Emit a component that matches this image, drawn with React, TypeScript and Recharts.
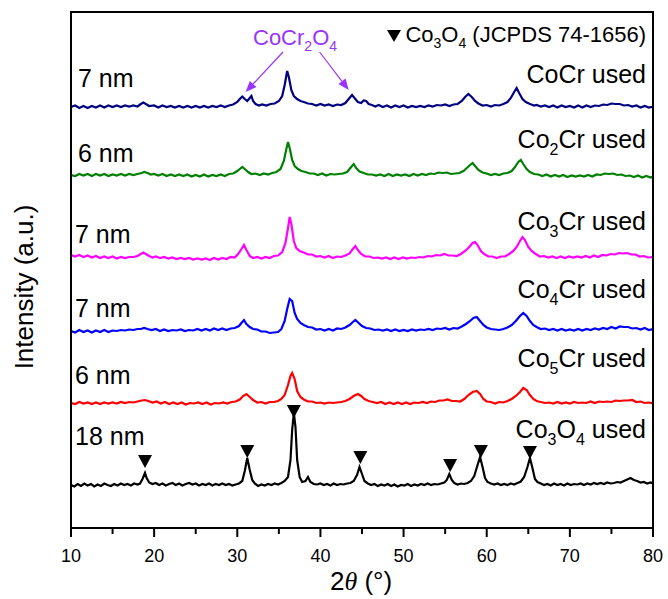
import React from 'react';
import { LineChart, Line, XAxis, YAxis, ReferenceLine, Scatter } from 'recharts';

// 2θ (deg) / intensity (a.u., above each pattern's own baseline)
const cocrUsed = [
  [10, 0], [10.5, 1.5], [11, -1], [11.5, 1], [12, -1], [12.5, 1], [13, -0.5], [13.5, 1.5], [14, -0.5], [14.5, 1.5],
  [15, 0], [15.5, 1.5], [16, 0], [16.5, 1.5], [17, 0.5], [17.5, 1.5], [18, 0.5], [18.4, 3], [18.7, 4.5], [19, 3],
  [19.4, 1], [20, 1.5], [20.5, -0.5], [21, 1.5], [21.5, 0], [22, 1], [22.5, -0.5], [23, 1], [23.5, -0.5], [24, 1],
  [24.5, -0.5], [25, 1], [25.5, -0.5], [26, 1], [26.5, -0.5], [27, 1], [27.5, 0], [28, 1.5], [28.5, 0], [29, 1.5],
  [29.5, 2.5], [30, 5], [30.3, 8], [30.6, 10.5], [30.9, 8], [31.2, 6], [31.5, 9], [31.7, 11], [31.9, 6], [32.2, 3],
  [32.6, 1.5], [33, 2.5], [33.5, 1.5], [34, 3], [34.5, 3.5], [35, 6], [35.4, 11], [35.7, 22], [36, 36], [36.2, 30],
  [36.5, 17], [36.8, 11], [37.2, 8], [37.6, 6], [38, 5], [38.5, 3.5], [39, 3], [39.5, 1.5], [40, 3], [40.5, 1.5],
  [41, 2.5], [41.5, 1], [42, 2.5], [42.5, 2], [43, 4], [43.4, 8], [43.8, 12], [44.1, 9], [44.5, 5], [44.9, 4],
  [45.2, 6.5], [45.5, 6], [45.8, 3], [46.2, 2], [46.6, 0.5], [47, 2], [47.5, 0], [48, 1.5], [48.5, -0.5], [49, 1.5],
  [49.5, 0], [50, 1.5], [50.5, -0.5], [51, 1], [51.5, 0], [52, 1], [52.5, 0], [53, 1.5], [53.5, 0.5], [54, 2],
  [54.5, 1.5], [55, 2.5], [55.5, 1], [56, 2.5], [56.5, 3], [57, 6], [57.4, 10], [57.8, 13], [58.2, 10], [58.6, 6],
  [59, 3.5], [59.5, 1.5], [60, 2], [60.5, 0.5], [61, 2], [61.5, 1.5], [62, 3], [62.5, 5], [62.9, 9], [63.3, 15],
  [63.6, 19], [63.9, 14], [64.3, 8], [64.7, 5], [65.2, 3], [65.7, 1.5], [66, 2], [66.5, 0.5], [67, 1.5], [67.5, 0],
  [68, 1.5], [68.5, -0.5], [69, 1.5], [69.5, 0], [70, 1], [70.5, -0.5], [71, 1.5], [71.5, -0.5], [72, 1.5], [72.5, 0],
  [73, 1.5], [73.5, 1], [74, 2.5], [74.5, 2], [75, 3.5], [75.5, 3], [76, 3], [76.5, 1.5], [77, 2], [77.5, 0.5],
  [78, 1.5], [78.5, -0.5], [79, 1], [79.5, -0.5], [80, 0.5],
];

const co2crUsed = [
  [10, 0], [10.5, -1], [11, 1], [11.5, -0.5], [12, 1], [12.5, -1], [13, 1], [13.5, -0.5], [14, 1], [14.5, -1],
  [15, 0.5], [15.5, -0.5], [16, 1], [16.5, -0.5], [17, 1], [17.5, 0], [18, 1], [18.5, 2], [18.8, 3], [19.2, 2],
  [19.6, 0.5], [20, 1], [20.5, -0.5], [21, 1], [21.5, -1], [22, 0.5], [22.5, -1], [23, 0.5], [23.5, -1], [24, 0.5],
  [24.5, -1.5], [25, 0], [25.5, -1.5], [26, 0.5], [26.5, -1.5], [27, 0], [27.5, -1], [28, 0.5], [28.5, -1], [29, 1],
  [29.5, 1.5], [30, 4], [30.3, 6], [30.6, 8], [30.9, 6], [31.3, 3], [31.7, 1], [32.2, 1.5], [32.7, 0], [33.2, 1.5],
  [33.7, 0.5], [34.2, 2], [34.7, 3], [35.2, 6], [35.6, 14], [35.9, 26], [36.1, 33], [36.3, 27], [36.6, 15], [36.9, 9],
  [37.3, 6], [37.7, 4], [38.2, 3], [38.7, 1.5], [39.2, 1.5], [39.7, 0], [40.2, 1.5], [40.7, -0.5], [41.2, 1], [41.7, 0.5],
  [42.2, 1], [42.7, 1.5], [43.2, 3], [43.6, 7], [44, 11], [44.3, 7], [44.7, 3.5], [45.2, 2], [45.7, 0.5], [46.2, 0.5],
  [46.7, -0.5], [47.2, 0.5], [47.7, -1], [48.2, 1], [48.7, -1], [49.2, 0.5], [49.7, -0.5], [50.2, 0.5], [50.7, -1], [51.2, 1],
  [51.7, -0.5], [52.2, 1], [52.7, 0], [53.2, 1.5], [53.7, 1], [54.2, 2.5], [54.7, 2], [55.2, 2.5], [55.7, 1], [56.2, 1.5],
  [56.7, 2], [57.2, 4], [57.6, 7], [58, 10], [58.3, 12], [58.6, 9], [59, 5], [59.5, 2.5], [60, 1.5], [60.5, 0],
  [61, 1], [61.5, 0], [62, 1.5], [62.5, 2], [63, 4], [63.4, 8], [63.8, 13], [64.1, 15], [64.4, 11], [64.8, 6],
  [65.2, 3], [65.7, 1], [66.2, 0.5], [66.7, -1], [67.2, 0.5], [67.7, -1.5], [68.2, 0], [68.7, -1.5], [69.2, 0], [69.7, -2],
  [70.2, -0.5], [70.7, -1.5], [71.2, -0.5], [71.7, -1.5], [72.2, 0], [72.7, -1.5], [73.2, 0.5], [73.7, 0], [74.2, 1.5], [74.7, 1],
  [75.2, 1.5], [75.7, 0], [76.2, 0.5], [76.7, -1], [77.2, -0.5], [77.7, -2], [78.2, -0.5], [78.7, -2.5], [79.2, -1], [79.7, -2.5],
  [80, -1.5],
];

const co3crUsed = [
  [10, 0], [10.5, -1.5], [11, 0], [11.5, -2], [12, -0.5], [12.5, -2.5], [13, -1], [13.5, -3], [14, -1.5], [14.5, -3],
  [15, -1.5], [15.5, -3.5], [16, -2], [16.5, -3], [17, -2], [17.5, -2], [18, -1], [18.4, 1], [18.7, 2.5], [19, 1],
  [19.4, -1], [19.8, -2.5], [20.2, -1.5], [20.7, -3], [21.2, -2], [21.7, -3.5], [22.2, -2.5], [22.7, -4], [23.2, -3], [23.7, -4],
  [24.2, -3], [24.7, -4.5], [25.2, -3.5], [25.7, -4.5], [26.2, -3.5], [26.7, -5], [27.2, -3], [27.7, -4.5], [28.2, -3], [28.7, -4],
  [29.2, -2], [29.7, -2.5], [30.1, 1], [30.5, 6], [30.8, 10], [31.1, 5], [31.5, -1], [31.9, -3], [32.4, -2], [32.9, -3.5],
  [33.4, -2], [33.9, -3], [34.4, -1], [34.9, -0.5], [35.4, 3], [35.8, 12], [36.1, 27], [36.3, 38], [36.5, 31], [36.8, 14],
  [37.1, 7], [37.5, 4], [38, 2.5], [38.5, 0.5], [39, 0.5], [39.5, -1.5], [40, -1], [40.5, -2.5], [41, -1], [41.5, -3],
  [42, -1.5], [42.5, -2], [43, -0.5], [43.5, 1.5], [43.9, 6], [44.2, 9], [44.5, 5], [44.9, 1], [45.4, -1.5], [45.9, -1.5],
  [46.4, -3], [46.9, -2.5], [47.4, -3.5], [47.9, -2.5], [48.4, -4], [48.9, -2.5], [49.4, -4], [49.9, -2.5], [50.4, -3.5], [50.9, -2.5],
  [51.4, -3], [51.9, -2], [52.4, -2.5], [52.9, -1], [53.4, -1.5], [53.9, 0], [54.4, -0.5], [54.9, 1], [55.4, -0.5], [55.9, -0.5],
  [56.4, -1], [56.9, 1], [57.4, 4], [57.9, 8], [58.3, 12], [58.6, 13], [58.9, 10], [59.3, 4], [59.7, 1], [60.2, -1.5],
  [60.7, -1.5], [61.2, -3], [61.7, -1.5], [62.2, -1.5], [62.7, 1], [63.2, 4], [63.6, 8], [64, 14], [64.3, 18], [64.6, 15],
  [65, 8], [65.4, 4], [65.9, 1], [66.4, -1.5], [66.9, -1], [67.4, -2.5], [67.9, -1.5], [68.4, -3], [68.9, -1.5], [69.4, -3],
  [69.9, -1.5], [70.4, -2.5], [70.9, -1.5], [71.4, -2.5], [71.9, -1], [72.4, -2.5], [72.9, -0.5], [73.4, -2], [73.9, 0], [74.4, -0.5],
  [74.9, 1], [75.4, 0.5], [75.9, 2], [76.4, 1.5], [76.9, 2], [77.4, 0.5], [77.9, 0.5], [78.4, -1.5], [78.9, -1], [79.4, -2.5],
  [80, -2],
];

const co4crUsed = [
  [10, 0], [10.5, -1.5], [11, 1], [11.5, -1], [12, 0.5], [12.5, -1.5], [13, 0.5], [13.5, -1], [14, 1], [14.5, -1],
  [15, 0.5], [15.5, 0], [16, 1], [16.5, 0.5], [17, 1.5], [17.5, 1], [18, 2], [18.4, 2], [18.8, 3], [19.2, 2],
  [19.7, 1], [20.2, 2], [20.7, 0], [21.2, 1.5], [21.7, 0], [22.2, 1], [22.7, 0.5], [23.2, 1.5], [23.7, 0], [24.2, 1],
  [24.7, 0.5], [25.2, 2], [25.7, 0.5], [26.2, 2], [26.7, 0.5], [27.2, 2.5], [27.7, 1], [28.2, 2.5], [28.7, 1], [29.2, 2.5],
  [29.7, 3], [30.2, 5], [30.5, 8], [30.8, 11], [31.1, 7], [31.5, 4], [31.9, 2], [32.4, 1.5], [32.9, -0.5], [33.4, -0.5],
  [33.9, -2], [34.4, -1.5], [34.9, -1], [35.3, 2], [35.7, 10], [36, 22], [36.3, 32], [36.6, 30], [36.9, 18], [37.2, 12],
  [37.6, 8], [38, 6], [38.5, 4], [39, 3.5], [39.5, 1.5], [40, 2], [40.5, 0.5], [41, 2], [41.5, 0.5], [42, 2.5],
  [42.5, 2], [43, 3.5], [43.5, 6], [43.9, 9], [44.2, 11], [44.6, 8], [45, 5], [45.5, 3], [46, 2.5], [46.5, 1],
  [47, 1.5], [47.5, 0.5], [48, 1.5], [48.5, 0], [49, 1.5], [49.5, 0], [50, 1], [50.5, 0], [51, 1.5], [51.5, 0.5],
  [52, 1.5], [52.5, 1], [53, 2], [53.5, 1], [54, 2.5], [54.5, 2], [55, 3], [55.5, 1.5], [56, 3], [56.5, 2.5],
  [57, 4.5], [57.5, 7], [58, 10], [58.4, 13], [58.8, 14], [59.2, 10], [59.6, 6], [60, 3.5], [60.5, 2], [61, 1.5],
  [61.5, 1], [62, 2], [62.5, 3.5], [63, 6], [63.5, 10], [64, 15], [64.4, 18], [64.8, 15], [65.2, 10], [65.6, 6],
  [66, 4], [66.5, 2], [67, 2.5], [67.5, 1], [68, 2], [68.5, 0.5], [69, 2], [69.5, 0.5], [70, 1.5], [70.5, 0.5],
  [71, 2], [71.5, 0.5], [72, 2], [72.5, 1], [73, 2.5], [73.5, 1.5], [74, 3], [74.5, 2], [75, 4], [75.5, 2.5],
  [76, 4.5], [76.5, 4], [77, 4], [77.5, 2.5], [78, 3], [78.5, 1.5], [79, 3], [79.5, 1], [80, 2],
];

const co5crUsed = [
  [10, 0], [10.5, -1], [11, 1], [11.5, -0.5], [12, 0.5], [12.5, -1], [13, 0.5], [13.5, -1], [14, 0.5], [14.5, -0.5],
  [15, 0.5], [15.5, -0.5], [16, 1], [16.5, 0], [17, 1], [17.5, 0.5], [18, 1.5], [18.5, 2.5], [18.9, 3], [19.3, 2],
  [19.8, 0.5], [20.3, 1.5], [20.8, -0.5], [21.3, 1], [21.8, -1], [22.3, 0.5], [22.8, -1], [23.3, 0.5], [23.8, -1.5], [24.3, 0],
  [24.8, -0.5], [25.3, 0.5], [25.8, -1], [26.3, 0.5], [26.8, -1.5], [27.3, 0], [27.8, -0.5], [28.3, 0.5], [28.8, -0.5], [29.3, 1],
  [29.8, 1.5], [30.3, 3.5], [30.7, 7], [31.1, 9], [31.5, 6], [31.9, 3], [32.4, 0.5], [32.9, 1], [33.4, -0.5], [33.9, 1],
  [34.4, 1], [34.9, 2], [35.3, 4], [35.7, 8], [36.1, 18], [36.4, 27], [36.6, 30], [36.9, 24], [37.2, 12], [37.6, 6],
  [38, 3.5], [38.5, 1.5], [39, 1.5], [39.5, 0], [40, 0.5], [40.5, -0.5], [41, 0.5], [41.5, 0], [42, 0.5], [42.5, 1],
  [43, 2], [43.5, 4], [44, 7], [44.5, 9], [44.9, 7], [45.3, 4], [45.8, 2], [46.3, 1], [46.8, 0], [47.3, 1],
  [47.8, -1], [48.3, 0.5], [48.8, -1], [49.3, 0.5], [49.8, -1], [50.3, 0.5], [50.8, -1], [51.3, 0.5], [51.8, 0], [52.3, 1],
  [52.8, 0], [53.3, 1.5], [53.8, 1], [54.3, 2.5], [54.8, 2.5], [55.3, 3.5], [55.8, 2], [56.3, 2], [56.8, 1.5], [57.3, 4],
  [57.8, 8], [58.3, 11], [58.8, 12], [59.2, 9], [59.6, 4], [60, 1.5], [60.5, 1], [61, -0.5], [61.5, 1], [62, 0.5],
  [62.5, 2], [63, 4], [63.5, 7], [64, 11], [64.4, 15], [64.8, 13], [65.2, 8], [65.6, 4], [66, 2], [66.5, 1],
  [67, 0], [67.5, 0.5], [68, -0.5], [68.5, 1], [69, -0.5], [69.5, 0.5], [70, -0.5], [70.5, 1], [71, 0], [71.5, 0.5],
  [72, 0], [72.5, 1.5], [73, 0], [73.5, 1.5], [74, 1], [74.5, 1.5], [75, 1], [75.5, 2.5], [76, 2], [76.5, 2.5],
  [77, 2.5], [77.5, 3], [78, 1], [78.5, 1.5], [79, 0], [79.5, 0.5], [80, -0.5],
];

const co3o4Used = [
  [10, 0], [10.4, -1.5], [10.8, 1], [11.2, -1], [11.6, 1.5], [12, -0.5], [12.4, 1], [12.8, -1.5], [13.2, 0.5], [13.6, -1],
  [14, 1.5], [14.4, 0], [14.8, -1], [15.2, 1], [15.6, -0.5], [16, 1.5], [16.4, 0], [16.8, 1], [17.2, -0.5], [17.6, 1.5],
  [18, 0.5], [18.3, 1.5], [18.6, 6], [18.9, 12], [19.1, 7], [19.4, 2.5], [19.8, 1], [20.2, 2], [20.6, 0], [21, 1.5],
  [21.4, -0.5], [21.8, 1], [22.2, 2], [22.6, 0], [23, 1.5], [23.4, -0.5], [23.8, 1], [24.2, 2], [24.6, 0.5], [25, 1.5],
  [25.4, -0.5], [25.8, 1], [26.2, 0], [26.6, 1.5], [27, -0.5], [27.4, 1], [27.8, 0], [28.2, 1.5], [28.6, 0], [29, 1],
  [29.4, -0.5], [29.8, 0.5], [30.2, 1.5], [30.6, 4], [30.9, 14], [31.2, 27], [31.5, 15], [31.8, 5], [32.1, 1.5], [32.5, -1],
  [32.9, 0.5], [33.3, -0.5], [33.7, 1], [34.1, 0], [34.5, 1.5], [34.9, 0.5], [35.3, 2], [35.7, 4], [36.1, 8], [36.4, 25],
  [36.6, 55], [36.8, 72], [37, 58], [37.2, 25], [37.5, 8], [37.8, 3], [38.2, 4], [38.5, 8], [38.8, 3], [39.2, 1],
  [39.6, 0.5], [40, 1.5], [40.4, 0], [40.8, 1], [41.2, -0.5], [41.6, 1.5], [42, 0], [42.4, 1], [42.8, 0.5], [43.2, 1.5],
  [43.6, 2], [44, 4], [44.4, 10], [44.7, 18], [45, 11], [45.3, 4], [45.7, 1.5], [46.1, 0], [46.5, 1], [46.9, -1],
  [47.3, 0.5], [47.7, -0.5], [48.1, 1], [48.5, -1], [48.9, 0.5], [49.3, -1.5], [49.7, 0], [50.1, -0.5], [50.5, 1], [50.9, -1],
  [51.3, 0.5], [51.7, -0.5], [52.1, 1], [52.5, 0], [52.9, 1.5], [53.3, 0], [53.7, 1], [54.1, 0.5], [54.5, 1.5], [54.9, 2.5],
  [55.2, 5], [55.5, 11], [55.8, 5], [56.1, 2], [56.5, 0.5], [56.9, 1.5], [57.3, 1], [57.7, 2], [58.1, 4], [58.5, 9],
  [58.9, 20], [59.2, 28], [59.5, 18], [59.8, 7], [60.1, 3], [60.5, 1.5], [60.9, 0.5], [61.3, 1.5], [61.7, 0], [62.1, 1],
  [62.5, 0], [62.9, 1.5], [63.3, 0.5], [63.7, 2], [64.1, 3.5], [64.5, 8], [64.9, 18], [65.2, 27], [65.5, 17], [65.8, 6],
  [66.1, 3], [66.5, 1.5], [66.9, 0], [67.3, 1], [67.7, -0.5], [68.1, 1.5], [68.5, 0], [68.9, 1], [69.3, -0.5], [69.7, 1.5],
  [70.1, 0], [70.5, 1], [70.9, 0.5], [71.3, 1.5], [71.7, 0], [72.1, 1.5], [72.5, 0.5], [72.9, 2], [73.3, 1], [73.7, 2],
  [74.1, 1], [74.5, 2.5], [74.9, 1.5], [75.3, 2], [75.7, 3], [76.1, 2.5], [76.5, 4], [76.9, 5.5], [77.3, 7], [77.7, 5],
  [78.1, 4], [78.5, 2.5], [78.9, 3], [79.3, 1.5], [79.7, 2.5], [80, 1.5],
];

// vertical stacking offset of each pattern (same units as intensity)
const offsets = [421, 353, 273, 197, 125, 43];
const seriesNames = ['CoCr used', 'Co2Cr used', 'Co3Cr used', 'Co4Cr used', 'Co5Cr used', 'Co3O4 used'];
const seriesColors = ['#000080', '#008000', '#ff00ff', '#0000ff', '#ff0000', '#000000'];
const seriesPoints = [cocrUsed, co2crUsed, co3crUsed, co4crUsed, co5crUsed, co3o4Used];

// Co3O4 reference reflections (JCPDS 74-1656) and the level of their markers
const refPeaks = [18.9, 31.2, 36.8, 44.8, 55.6, 59.3, 65.2];
const refMarkLevel = [67, 77, 117, 71, 63, 77, 76];

const xTicks = [10, 15, 20, 25, 30, 35, 40, 45, 50, 55, 60, 65, 70, 75, 80];

const series = seriesPoints.map((pts, i) => ({
  name: seriesNames[i],
  color: seriesColors[i],
  data: pts.map(([x, y]) => ({ x, y: y + offsets[i] })),
}));
const refMarks = refPeaks.map((x, i) => ({ x, y: refMarkLevel[i] }));

const PURPLE = '#9933ff';

const XTick = (props: any) => {
  const { x, y, payload } = props;
  const major = payload.value % 10 === 0;
  return (
    <g>
      <line x1={x} x2={x} y1={y} y2={y + (major ? 9 : 6)} stroke="#000" strokeWidth={2} />
      {major && (
        <text x={x} y={y + 34} textAnchor="middle" fontSize={18} fill="#000">
          {payload.value}
        </text>
      )}
    </g>
  );
};

const DownTriangle = (props: any) => {
  const { cx, cy } = props;
  return <polygon points={`${cx - 7},${cy - 6} ${cx + 7},${cy - 6} ${cx},${cy + 7}`} fill="#000" />;
};

const Arrow = (props: any) => {
  const { x1, y1, x2, y2 } = props;
  const a = Math.atan2(y2 - y1, x2 - x1);
  const bx = x2 - 11 * Math.cos(a);
  const by = y2 - 11 * Math.sin(a);
  const px = -Math.sin(a) * 4.5;
  const py = Math.cos(a) * 4.5;
  return (
    <g>
      <line x1={x1} y1={y1} x2={bx} y2={by} stroke={PURPLE} strokeWidth={1.2} />
      <polygon points={`${x2},${y2} ${bx + px},${by + py} ${bx - px},${by - py}`} fill={PURPLE} />
    </g>
  );
};

// "Co_3O_4 used" -> tspans, parts starting with "_" are subscripts
function chem(parts: string[], subSize: number, drop: number) {
  let lowered = false;
  return parts.map((p, i) => {
    if (p.startsWith('_')) {
      const dy = lowered ? 0 : drop;
      lowered = true;
      return <tspan key={i} dy={dy} fontSize={subSize}>{p.slice(1)}</tspan>;
    }
    const dy = lowered ? -drop : 0;
    lowered = false;
    return <tspan key={i} dy={dy}>{p}</tspan>;
  });
}

export default function App() {
  const sizeLabels = [
    { t: '7 nm', x: 78, y: 87 },
    { t: '6 nm', x: 78, y: 162 },
    { t: '7 nm', x: 75, y: 243 },
    { t: '7 nm', x: 75, y: 317 },
    { t: '6 nm', x: 75, y: 384 },
    { t: '18 nm', x: 75, y: 445 },
  ];
  const usedLabels = [
    { p: ['CoCr used'], y: 83 },
    { p: ['Co', '_2', 'Cr used'], y: 148 },
    { p: ['Co', '_3', 'Cr used'], y: 230 },
    { p: ['Co', '_4', 'Cr used'], y: 298 },
    { p: ['Co', '_5', 'Cr used'], y: 367 },
    { p: ['Co', '_3', 'O', '_4', ' used'], y: 438 },
  ];

  return (
    <div style={{ position: 'relative', width: 668, height: 599, background: '#fff', fontFamily: '"Liberation Sans", Arial, sans-serif' }}>
      <style>{'body{margin:0}'}</style>
      <LineChart width={668} height={599} margin={{ top: 12, right: 15, left: 71, bottom: 31 }}>
        <XAxis
          type="number"
          dataKey="x"
          domain={[10, 80]}
          ticks={xTicks}
          allowDataOverflow
          height={40}
          tickSize={0}
          tickMargin={0}
          tickLine={false}
          tick={<XTick />}
          axisLine={{ stroke: '#000', strokeWidth: 2 }}
        />
        <YAxis type="number" dataKey="y" domain={[0, 516]} hide width={0} allowDataOverflow />
        {series.map((s) => (
          <Line
            key={s.name}
            data={s.data}
            dataKey="y"
            type="linear"
            stroke={s.color}
            strokeWidth={2.2}
            strokeLinejoin="miter"
            dot={false}
            isAnimationActive={false}
          />
        ))}
        <Scatter data={refMarks} dataKey="y" shape={<DownTriangle />} isAnimationActive={false} />
        <ReferenceLine segment={[{ x: 35.5, y: 476 }, { x: 31.0, y: 436 }]} shape={Arrow} />
        <ReferenceLine segment={[{ x: 39.9, y: 476 }, { x: 43.4, y: 438 }]} shape={Arrow} />
      </LineChart>

      <svg width={668} height={599} style={{ position: 'absolute', left: 0, top: 0, pointerEvents: 'none' }}>
        <rect x={71} y={12} width={582} height={516} fill="none" stroke="#000" strokeWidth={2} />
        <g fontSize={25} fill="#000">
          {sizeLabels.map((l, i) => (
            <text key={i} x={l.x} y={l.y}>{l.t}</text>
          ))}
        </g>
        <g fontSize={25} fill="#000" textAnchor="end">
          {usedLabels.map((l, i) => (
            <text key={i} x={646} y={l.y}>{chem(l.p, 16, 7)}</text>
          ))}
        </g>
        <polygon points="387,30 401,30 394,42" fill="#000" />
        <text x={646} y={42} fontSize={22} textAnchor="end" fill="#000">
          {chem(['Co', '_3', 'O', '_4', ' (JCPDS 74-1656)'], 14, 6)}
        </text>
        <text x={253} y={45} fontSize={22} fill={PURPLE}>
          {chem(['CoCr', '_2', 'O', '_4'], 14, 6)}
        </text>
        <text x={361} y={590} fontSize={26} textAnchor="middle" fill="#000">
          2<tspan fontFamily='"Liberation Serif", serif' fontStyle="italic">θ</tspan> (°)
        </text>
        <text transform="translate(33,287) rotate(-90)" fontSize={26} textAnchor="middle" fill="#000">
          Intensity (a.u.)
        </text>
      </svg>
    </div>
  );
}
